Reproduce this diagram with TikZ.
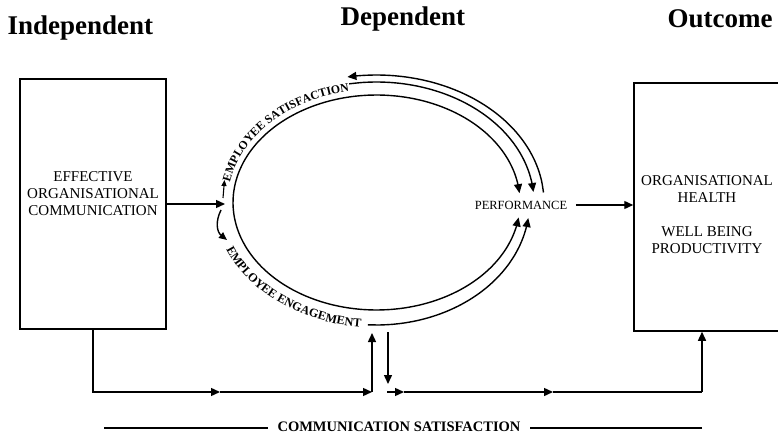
\documentclass[tikz,border=0pt]{standalone}
\usepackage{fontspec}
\setmainfont{Liberation Serif}
\usetikzlibrary{arrows.meta,decorations.text,calc}
\begin{document}
\begin{tikzpicture}[x=1pt,y=-1pt,line width=1.4pt,
  >={Triangle[length=9pt,width=8pt]},
  tinytip/.style={-{Triangle[length=6pt,width=5pt]},line width=1.1pt},
  boxnode/.style={draw,line width=1.5pt,inner sep=0pt},
  boxtext/.style={font=\fontsize{15}{17}\selectfont,align=center,inner sep=0pt},
  head/.style={font=\bfseries\fontsize{27}{30}\selectfont,anchor=base west,inner sep=0pt},
  perftext/.style={font=\fontsize{12.5}{14}\selectfont,inner sep=4pt},
  bottomtext/.style={font=\bfseries\fontsize{14.5}{17}\selectfont,inner sep=0pt}
]
\useasboundingbox (0,0) rectangle (778,438);

% headings
\node[head] (h1) at (7,35) {Independent};
\node[head] (h2) at (340,26) {Dependent};
\node[head] (h3) at (667,28) {Outcome};

% boxes
\node[boxnode,minimum width=146pt,minimum height=250pt] (lbox) at (93,204) {};
\node[boxtext] (ltext) at (93,194) {EFFECTIVE\\ORGANISATIONAL\\COMMUNICATION};
\node[boxnode,minimum width=147pt,minimum height=248pt] (rbox) at (707.5,207) {};
\node[boxtext] (rtext) at (707,214.5) {ORGANISATIONAL\\HEALTH\\[17pt]WELL BEING\\PRODUCTIVITY};

% performance
\node[perftext] (perf) at (521,205) {PERFORMANCE};
\draw[->,shorten <=4pt] (perf.east) -- (perf.east -| rbox.west);

% left arrows
\coordinate (hub) at (225,204);
\draw[->] (lbox.east) -- (hub);
\coordinate (ua1) at (223,198);
\coordinate (ua2) at (224.5,180);
\draw[tinytip] (ua1) -- (ua2);
\coordinate (da1) at (221,210);
\coordinate (da2) at (227,240);
\draw[-{Triangle[length=8pt,width=7pt]}] (da1) .. controls (215,222) and (217,232) .. (da2);

% inner loop
\draw[<->] plot[smooth,samples=60,domain=8:355,variable=\t]
  ({376.5+143.5*cos(\t)},{202.5+107.5*sin(\t)});
% middle top arc
\draw[->] plot[smooth,samples=20,domain=260:355,variable=\t]
  ({376.5+157.5*cos(\t)},{202.5+120.5*sin(\t)});
% outer top arc
\draw[<-] plot[smooth,samples=20,domain=260:355.5,variable=\t]
  ({376.5+167.5*cos(\t)},{202.5+127.5*sin(\t)});
% outer bottom arc
\draw[->] plot[smooth,samples=20,domain=93.2:7.3,variable=\t]
  ({376.5+153*cos(\t)},{202.5+122.5*sin(\t)});

% curved texts
\path[decorate,decoration={text along path,text align=right,
  text={|\bfseries\fontsize{11.8}{14}\selectfont|EMPLOYEE SATISFACTION}}]
  plot[samples=90,domain=170:259.5,variable=\t]
  ({376.5+149*cos(\t)},{202.5+113*sin(\t)});
\path[decorate,decoration={text along path,text align=right,
  text={|\bfseries\fontsize{12.2}{14}\selectfont|EMPLOYEE ENGAGEMENT}}]
  plot[samples=90,domain=-175:-95.5,variable=\s]
  ({376.5+162*cos(-\s)},{202.5+125*sin(-\s)});

% bottom flow
\coordinate (b2) at (220,392);
\coordinate (b3) at (372,392);
\coordinate (b4) at (372,333);
\draw[->] (lbox.south) |- (b2);
\draw[->] (b2) -- (b3);
\draw[->] (b3) -- (b4);
\coordinate (d1) at (388,332);
\coordinate (d2) at (388,384);
\draw[->] (d1) -- (d2);
\coordinate (e1) at (387,392);
\coordinate (e2) at (404,392);
\coordinate (e3) at (553,392);
\coordinate (e4) at (702,392);
\draw[->] (e1) -- (e2);
\draw[->] (e2) -- (e3);
\draw (e3) -- (e4);
\draw[->] (e4) -- (e4 |- rbox.south);

% bottom label
\node[bottomtext] (cs) at (399,427) {COMMUNICATION SATISFACTION};
\coordinate (csL) at (104,428);
\coordinate (csR) at (702,428);
\draw[line width=1.2pt,shorten >=9pt] (csL) -- (cs.west |- csL);
\draw[line width=1.2pt,shorten >=9pt] (csR) -- (cs.east |- csR);
\end{tikzpicture}
\end{document}
